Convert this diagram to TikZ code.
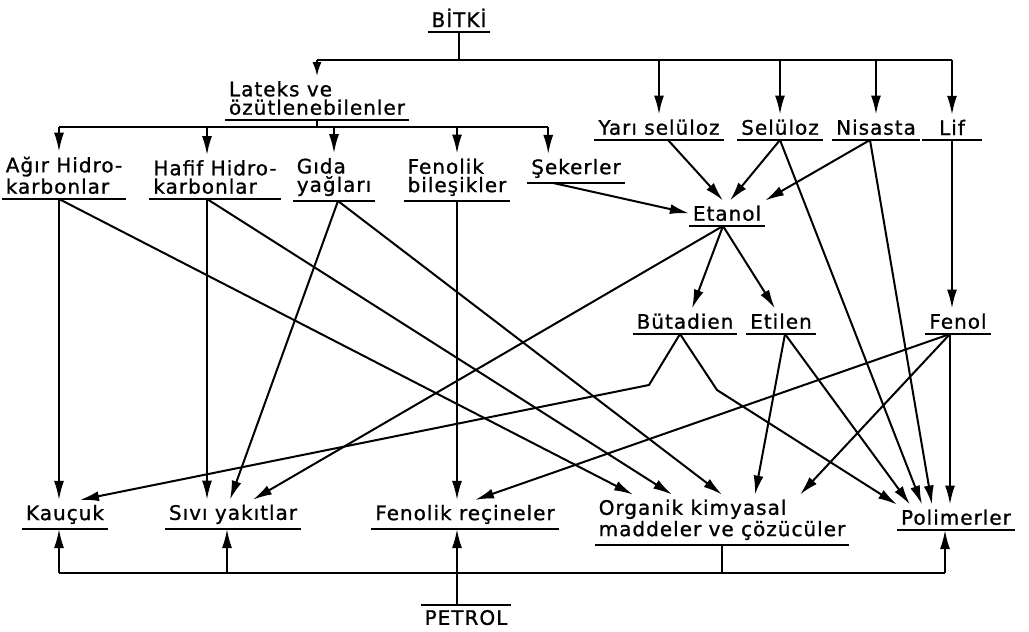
\documentclass[tikz,border=0pt]{standalone}
\usepackage{fontspec}
\setmainfont{DejaVu Sans}[LetterSpace=5,FakeBold=1]
\usetikzlibrary{arrows.meta,calc}

\begin{document}
\begin{tikzpicture}[x=0.5pt,y=-0.5pt,line width=1pt,>={Latex[length=9.5pt,width=5pt]}]
        \useasboundingbox (0,0) rectangle (1029,632);
        \begin{scope}[every node/.style={anchor=south,align=left,inner xsep=1.5pt,inner ysep=2pt,font=\fontsize{10}{9.2}\selectfont}]
            \node (bitki) at (459,32) {BİTKİ};
            \node (lateks) at (317,120) {Lateks ve\\özütlenebilenler};
            \node (agir) at (64,199) {Ağır Hidro-\\karbonlar};
            \node (hafif) at (215,199) {Hafif Hidro-\\karbonlar};
            \node (gida) at (334,201) {Gıda\\yağları};
            \node (fenolikb) at (457,201) {Fenolik\\bileşikler};
            \node (seker) at (576,183) {Şekerler};
            \node (yari) at (659,140) {Yarı selüloz};
            \node (selu) at (780,140) {Selüloz};
            \node (nisasta) at (876,140) {Nisasta};
            \node[inner xsep=8pt] (lif) at (952,140) {Lif};
            \node (etanol) at (727,226) {Etanol};
            \node (butadien) at (685,334) {Bütadien};
            \node (etilen) at (781,334) {Etilen};
            \node (fenol) at (958,334) {Fenol};
            \node (kaucuk) at (65,529) {Kauçuk};
            \node (sivi) at (233,529) {Sıvı yakıtlar};
            \node (fenolikr) at (465,529) {Fenolik reçineler};
            \node (organik) at (722,545) {Organik kimyasal\\maddeler ve çözücüler};
            \node (polimer) at (956,530) {Polimerler};
            \node[anchor=north] (petrol) at (466,605) {PETROL};
        \end{scope}
        % under- and overlines
        \foreach \n in {bitki,lateks,agir,hafif,gida,fenolikb,seker,yari,selu,nisasta,lif,etanol,butadien,etilen,fenol,kaucuk,sivi,fenolikr,organik,polimer}
            \draw (\n.south west) -- (\n.south east);
        \draw (petrol.north west) -- (petrol.north east);
        % points where lines leave the labels
        \coordinate (agirap) at ($(agir.south)+(-5,0)$);
        \coordinate (hafifap) at ($(hafif.south)+(-8,0)$);
        \coordinate (gidaap) at ($(gida.south)+(4,0)$);
        \coordinate (nisap) at ($(nisasta.south)+(-6,0)$);
        \coordinate (etanap) at ($(etanol.south)+(-4,0)$);
        \coordinate (butap) at ($(butadien.south)+(-5,0)$);
        \coordinate (etilap) at ($(etilen.south)+(4,0)$);
        \coordinate (fenolap) at ($(fenol.south)+(-8,0)$);
        \coordinate (sekerin) at ($(seker.north west)+(21,0)$);
        \coordinate (siviin) at ($(sivi.south)+(-6,0)$);
        \coordinate (polin) at ($(polimer.south)+(-11,0)$);
        \coordinate (bus1) at (456,60);
        \coordinate (bus2) at (318,127);
        \coordinate (bus3) at (456,573);
        % BiTKi
        \draw (bitki.south) -- (bitki.south |- bus1);
        \draw (lateks.north |- bus1) -- (lif.north |- bus1);
        \draw[-{Latex[length=7pt,width=4.5pt]}] (lateks.north |- bus1) -- (lateks.north);
        \foreach \n in {yari,selu,nisasta,lif}
            \draw[->] (\n.north |- bus1) -- (\n.north);
        \draw (lateks.south) -- (lateks.south |- bus2);
        \draw (agirap |- bus2) -- (sekerin |- bus2);
        \draw[->] (agirap |- bus2) -- (agirap |- agir.north);
        \draw[->] (hafifap |- bus2) -- (hafifap |- hafif.north);
        \draw[->] (gida.north |- bus2) -- (gida.north);
        \draw[->] (fenolikb.north |- bus2) -- (fenolikb.north);
        \draw[->] (sekerin |- bus2) -- (sekerin);
        % etanol
        \draw[->] ($(seker.south west)+(26,0)$) -- (etanol.west);
        \draw[->] ($(yari.south)+(9,0)$) -- ($(etanol.north)+(-4,0)$);
        \draw[->] (selu.south) -- ($(etanol.north)+(3,0)$);
        \draw[->] (nisap) -- (etanol.north east);
        \draw[->] (etanap) -- ($(butadien.north)+(7,0)$);
        \draw[->] (etanap) -- ($(etilen.north)+(-6,0)$);
        \draw[->] (etanap) -- ($(sivi.north)+(20,0)$);
        \draw[->] (lif.south) -- (lif.south |- fenol.north);
        % polimerler
        \draw[->] (butap) -- ++(37,56) -- ($(polimer.north)+(-59,0)$);
        \draw[->] (etilap) -- ($(polimer.north)+(-46,0)$);
        \draw[->] (selu.south) -- ($(polimer.north)+(-34,0)$);
        \draw[->] (nisap) -- ($(polimer.north)+(-24,0)$);
        \draw[->] (fenolap) -- (fenolap |- polimer.north);
        % organik
        \draw[->] (agirap) -- ($(organik.north)+(-89,0)$);
        \draw[->] (hafifap) -- ($(organik.north)+(-50,0)$);
        \draw[->] (gidaap) -- (organik.north);
        \draw[->] (etilap) -- ($(organik.north)+(33,0)$);
        \draw[->] (fenolap) -- ($(organik.north)+(78,0)$);
        % the rest
        \draw[->] (butap) -- ++(-31,51) -- ($(kaucuk.north)+(15,0)$);
        \draw[->] (fenolap) -- ($(fenolikr.north)+(10,0)$);
        \draw[->] (agirap) -- (agirap |- kaucuk.north);
        \draw[->] (hafifap) -- (hafifap |- sivi.north);
        \draw[->] (gidaap) -- ($(sivi.north)+(-3,0)$);
        \draw[->] (fenolikb.south) -- (fenolikb.south |- fenolikr.north);
        % PETROL
        \draw (agirap |- bus3) -- (polin |- bus3);
        \draw[->] (agirap |- bus3) -- (agirap |- kaucuk.south);
        \draw[->] (siviin |- bus3) -- (siviin);
        \draw (organik.south) -- (organik.south |- bus3);
        \draw[->] (polin |- bus3) -- (polin);
        \draw[->] (petrol.north -| fenolikb.south) -- (fenolikb.south |- fenolikr.south);
    \end{tikzpicture}
\end{document}
